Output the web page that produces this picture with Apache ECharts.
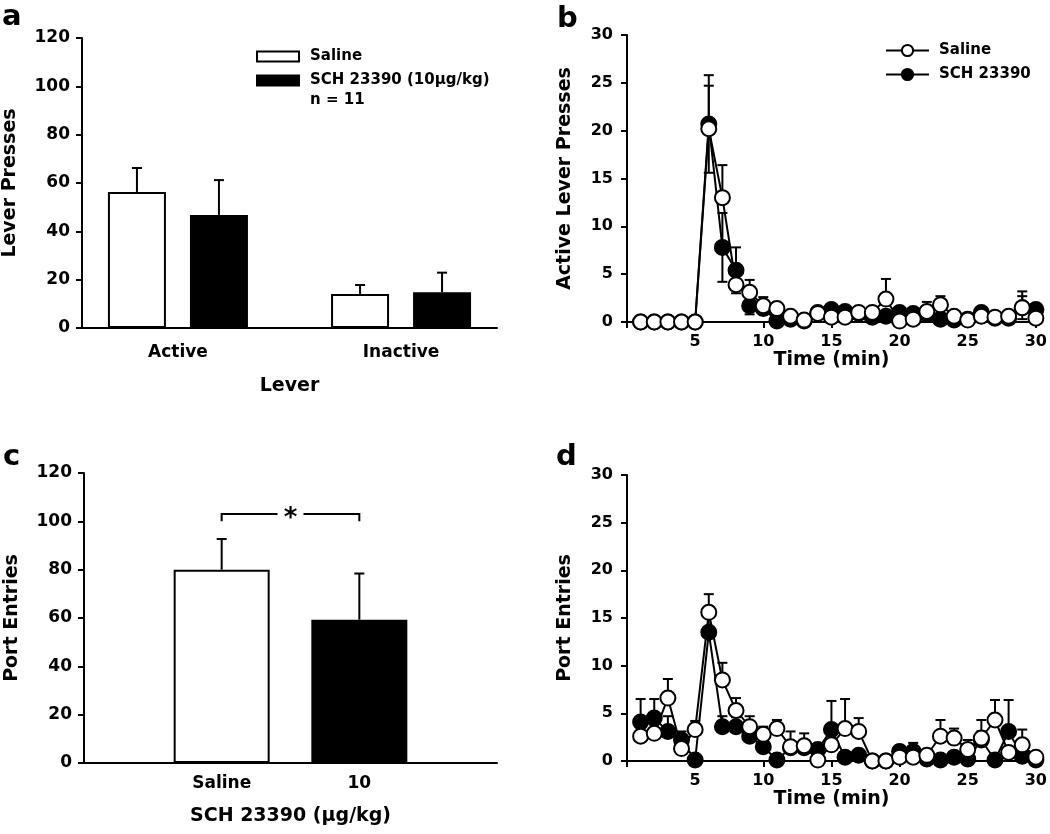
<!DOCTYPE html>
<html>
<head>
<meta charset="utf-8">
<script src="https://cdn.jsdelivr.net/npm/echarts@6/dist/echarts.min.js"></script>
<style>
  html, body { margin: 0; padding: 0; background: #fff; }
  #chart { width: 1050px; height: 834px; }
</style>
</head>
<body>
<div id="chart"></div>
<script>
const FONT = 'DejaVu Sans';

// panel a: lever presses, mean and SEM
const leverCats = ['Active', 'Inactive'];
const leverSaline = [56.3, 14.1];
const leverSalineSem = [9.9, 3.7];
const leverSch = [46.8, 14.8];
const leverSchSem = [14.4, 8.1];

// panel c: port entries, mean and SEM
const portCats = ['Saline', '10'];
const portMean = [80.0, 59.3];
const portSem = [12.7, 19.1];
const sigLevel = 103;
const sigLeg = 100;

// panels b and d: per-minute time course
const minutes = [1, 2, 3, 4, 5, 6, 7, 8, 9, 10, 11, 12, 13, 14, 15, 16, 17, 18, 19, 20, 21, 22, 23, 24, 25, 26, 27, 28, 29, 30];

const activeSaline = [0, 0, 0, 0, 0, 20.2, 13.0, 3.9, 3.1, 1.7, 1.4, 0.6, 0.2, 0.9, 0.5, 0.5, 1.0, 1.0, 2.4, 0.1, 0.3, 1.1, 1.8, 0.6, 0.2, 0.6, 0.5, 0.6, 1.5, 0.4];
const activeSalineSem = [0, 0, 0, 0, 0, 4.5, 3.4, 0.6, 1.3, 0.9, 0.6, 0.3, 0.2, 0.4, 0.3, 0.3, 0.4, 0.4, 2.1, 0.1, 0.2, 1.0, 0.9, 0.3, 0.2, 0.3, 0.3, 0.3, 1.7, 0.3];
const activeSch = [0, 0, 0, 0, 0, 20.7, 7.8, 5.4, 1.7, 1.4, 0.1, 0.3, 0.1, 1.0, 1.3, 1.1, 0.9, 0.5, 0.6, 1.0, 0.9, 0.8, 0.3, 0.2, 0.3, 1.0, 0.4, 0.4, 1.5, 1.3];
const activeSchSem = [0, 0, 0, 0, 0, 5.1, 3.6, 2.4, 0.9, 0.6, 0.2, 0.3, 0.1, 0.4, 0.4, 0.4, 0.4, 0.3, 0.3, 0.4, 0.4, 0.4, 0.2, 0.2, 0.2, 0.4, 0.3, 0.3, 1.2, 0.6];

const portSaline = [2.6, 2.9, 6.6, 1.3, 3.3, 15.6, 8.5, 5.3, 3.6, 2.8, 3.4, 1.5, 1.6, 0.1, 1.7, 3.4, 3.1, 0, 0, 0.4, 0.4, 0.6, 2.6, 2.4, 1.2, 2.4, 4.3, 0.9, 1.7, 0.4];
const portSalineSem = [0.8, 0.9, 2.0, 0.8, 0.9, 1.9, 1.8, 1.3, 1.1, 0.8, 0.9, 1.6, 1.3, 0.3, 1.0, 3.1, 1.4, 0, 0, 0.3, 0.3, 0.4, 1.7, 1.0, 1.0, 1.9, 2.1, 0.6, 1.6, 0.3];
const portSch = [4.1, 4.5, 3.1, 2.2, 0.1, 13.5, 3.6, 3.6, 2.6, 1.5, 0.1, 1.4, 1.4, 1.2, 3.3, 0.4, 0.6, 0, 0, 1.0, 1.0, 0.2, 0.1, 0.4, 0.2, 2.2, 0.1, 3.1, 0.5, 0.1];
const portSchSem = [2.4, 2.0, 1.6, 0.9, 0.2, 1.6, 1.1, 1.0, 0.8, 0.6, 0.2, 0.5, 0.5, 0.5, 3.0, 0.3, 0.4, 0, 0, 0.6, 0.9, 0.2, 0.2, 0.3, 0.2, 0.9, 0.2, 3.3, 0.4, 0.2];

const BAR_A = 58, GAP_A = 24, BAR_C = 96, CAP = 10, LW = 2;

const axisLine = { show: true, lineStyle: { color: '#000', width: LW } };
const tickOut = { show: true, length: 6, lineStyle: { color: '#000', width: LW } };
const label = (extra) => Object.assign({ color: '#000', fontFamily: FONT, fontWeight: 'bold', fontSize: 16 }, extra);
const nameStyle = { color: '#000', fontFamily: FONT, fontWeight: 'bold', fontSize: 19 };
const legendText = { fontFamily: FONT, fontWeight: 'bold', fontSize: 15, color: '#000' };

// error bar drawn from mean to mean+sem (and optionally down)
function errRender(offsetPx, bothWays) {
  return function (params, api) {
    const x = api.value(0), y = api.value(1), s = api.value(2);
    if (!s) return;
    const top = api.coord([x, y + s]);
    const mid = api.coord([x, y]);
    const px = top[0] + offsetPx;
    const children = [
      { type: 'line', shape: { x1: px, y1: mid[1], x2: px, y2: top[1] } },
      { type: 'line', shape: { x1: px - CAP / 2, y1: top[1], x2: px + CAP / 2, y2: top[1] } }
    ];
    if (bothWays) {
      const bot = api.coord([x, Math.max(0, y - s)]);
      children.push({ type: 'line', shape: { x1: px, y1: mid[1], x2: px, y2: bot[1] } });
      children.push({ type: 'line', shape: { x1: px - CAP / 2, y1: bot[1], x2: px + CAP / 2, y2: bot[1] } });
    }
    children.forEach(c => { c.style = { stroke: '#000', lineWidth: LW, fill: 'none' }; });
    return { type: 'group', children };
  };
}

function errSeries(xi, yi, mean, sem, offsetPx, bothWays, xs) {
  return {
    type: 'custom', xAxisIndex: xi, yAxisIndex: yi, z: 1, silent: true,
    renderItem: errRender(offsetPx, bothWays),
    data: mean.map((v, i) => [xs[i], v, sem[i]])
  };
}

function timeLine(name, xi, yi, vals, fill, z) {
  return {
    name, type: 'line', xAxisIndex: xi, yAxisIndex: yi, z,
    data: vals.map((v, i) => [minutes[i], v]),
    symbol: 'circle', symbolSize: 15,
    lineStyle: { color: '#000', width: LW },
    itemStyle: { color: fill, borderColor: '#000', borderWidth: LW }
  };
}

const timeX = (gi) => ({
  type: 'value', gridIndex: gi, min: 0, max: 30, interval: 5,
  axisLine, axisTick: Object.assign({}, tickOut), splitLine: { show: false },
  axisLabel: label({ margin: 12, formatter: v => v === 0 ? '' : v }),
  name: 'Time (min)', nameLocation: 'middle', nameGap: 27, nameTextStyle: nameStyle
});
const timeY = (gi, name) => ({
  type: 'value', gridIndex: gi, min: 0, max: 30, interval: 5,
  axisLine, axisTick: tickOut, splitLine: { show: false },
  axisLabel: label({ margin: 14 }),
  name, nameLocation: 'middle', nameGap: 52, nameTextStyle: nameStyle
});

const chart = echarts.init(document.getElementById('chart'));
const half = (BAR_A + GAP_A) / 2;

chart.setOption({
  backgroundColor: '#fff',
  animation: false,
  title: [
    { text: 'a', left: -3, top: -2 },
    { text: 'b', left: 552, top: 0 },
    { text: 'c', left: -2, top: 438 },
    { text: 'd', left: 551, top: 438 }
  ].map(t => Object.assign(t, { textStyle: { fontFamily: FONT, fontWeight: 'bold', fontSize: 29, color: '#000' } })),
  legend: [
    {
      data: ['Saline', 'SCH 23390 (10µg/kg)'], left: 256, top: 49, orient: 'vertical', padding: 0,
      itemWidth: 42, itemHeight: 10, itemGap: 9, icon: 'rect', selectedMode: false,
      textStyle: Object.assign({ padding: [0, 0, 0, 6] }, legendText)
    },
    {
      data: ['Saline (b)', 'SCH 23390'], left: 885, top: 43, orient: 'vertical', padding: 0,
      itemWidth: 43, itemHeight: 14, itemGap: 9, selectedMode: false,
      formatter: n => n.replace(' (b)', ''),
      textStyle: Object.assign({ padding: [0, 0, 0, 5] }, legendText)
    }
  ],
  graphic: [
    { type: 'text', left: 310, top: 93, style: { text: 'n = 11', fontFamily: FONT, fontWeight: 'bold', fontSize: 15, fill: '#000' } }
  ],
  grid: [
    { left: 82, top: 38, width: 415, height: 290 },
    { left: 627, top: 35, width: 411, height: 287 },
    { left: 84, top: 473, width: 413, height: 290 },
    { left: 627, top: 475, width: 411, height: 286 }
  ],
  xAxis: [
    {
      type: 'value', gridIndex: 0, min: 0.57, max: 2.43,
      axisLine, axisTick: { show: false }, splitLine: { show: false },
      axisLabel: label({ fontSize: 17, margin: 16, customValues: [1, 2], formatter: v => leverCats[Math.round(v) - 1] || '' }),
      name: 'Lever', nameLocation: 'middle', nameGap: 49, nameTextStyle: nameStyle
    },
    timeX(1),
    {
      type: 'value', gridIndex: 2, min: 0, max: 3, interval: 1,
      axisLine, axisTick: { show: false }, splitLine: { show: false },
      axisLabel: label({ fontSize: 17, margin: 12, formatter: v => portCats[v - 1] || '' }),
      name: 'SCH 23390 (µg/kg)', nameLocation: 'middle', nameGap: 44, nameTextStyle: nameStyle
    },
    timeX(3)
  ],
  yAxis: [
    {
      type: 'value', gridIndex: 0, min: 0, max: 120, interval: 20,
      axisLine, axisTick: tickOut, splitLine: { show: false },
      axisLabel: label({ fontSize: 17, margin: 12 }),
      name: 'Lever Presses', nameLocation: 'middle', nameGap: 62, nameTextStyle: nameStyle
    },
    timeY(1, 'Active Lever Presses'),
    {
      type: 'value', gridIndex: 2, min: 0, max: 120, interval: 20,
      axisLine, axisTick: tickOut, splitLine: { show: false },
      axisLabel: label({ fontSize: 17, margin: 12 }),
      name: 'Port Entries', nameLocation: 'middle', nameGap: 62, nameTextStyle: nameStyle
    },
    timeY(3, 'Port Entries')
  ],
  series: [
    // panel a
    {
      name: 'Saline', type: 'bar', xAxisIndex: 0, yAxisIndex: 0, z: 2,
      barWidth: BAR_A, barGap: (GAP_A / BAR_A * 100) + '%',
      data: leverSaline.map((v, i) => [i + 1, v]),
      itemStyle: { color: '#fff', borderColor: '#000', borderWidth: LW }
    },
    {
      name: 'SCH 23390 (10µg/kg)', type: 'bar', xAxisIndex: 0, yAxisIndex: 0, z: 2,
      barWidth: BAR_A, barGap: (GAP_A / BAR_A * 100) + '%',
      data: leverSch.map((v, i) => [i + 1, v]),
      itemStyle: { color: '#000', borderColor: '#000', borderWidth: LW }
    },
    errSeries(0, 0, leverSaline, leverSalineSem, -half, false, [1, 2]),
    errSeries(0, 0, leverSch, leverSchSem, half, false, [1, 2]),

    // panel b
    errSeries(1, 1, activeSch, activeSchSem, 0, true, minutes),
    errSeries(1, 1, activeSaline, activeSalineSem, 0, false, minutes),
    timeLine('SCH 23390', 1, 1, activeSch, '#000', 3),
    timeLine('Saline (b)', 1, 1, activeSaline, '#fff', 4),

    // panel c
    {
      type: 'bar', xAxisIndex: 2, yAxisIndex: 2, z: 2, barWidth: BAR_C,
      data: portMean.map((v, i) => ({
        value: [i + 1, v],
        itemStyle: { color: i === 0 ? '#fff' : '#000', borderColor: '#000', borderWidth: LW }
      }))
    },
    errSeries(2, 2, portMean, portSem, 0, false, [1, 2]),
    {
      type: 'custom', xAxisIndex: 2, yAxisIndex: 2, silent: true,
      data: [[1, 2, sigLevel, sigLeg]],
      renderItem: (params, api) => {
        const a = api.coord([api.value(0), api.value(2)]);
        const b = api.coord([api.value(1), api.value(2)]);
        const legY = api.coord([api.value(0), api.value(3)])[1];
        const m = (a[0] + b[0]) / 2;
        const st = { stroke: '#000', lineWidth: LW, fill: 'none' };
        return {
          type: 'group', children: [
            { type: 'polyline', shape: { points: [[a[0], legY], a, [m - 13, a[1]]] }, style: st },
            { type: 'polyline', shape: { points: [[m + 13, b[1]], b, [b[0], legY]] }, style: st },
            { type: 'text', x: m, y: a[1] + 5, style: { text: '*', fontFamily: FONT, fontWeight: 'bold', fontSize: 26, fill: '#000', align: 'center', verticalAlign: 'middle' } }
          ]
        };
      }
    },

    // panel d
    errSeries(3, 3, portSch, portSchSem, 0, false, minutes),
    errSeries(3, 3, portSaline, portSalineSem, 0, false, minutes),
    timeLine('SCH 23390 d', 3, 3, portSch, '#000', 3),
    timeLine('Saline d', 3, 3, portSaline, '#fff', 4)
  ]
});
</script>
</body>
</html>
